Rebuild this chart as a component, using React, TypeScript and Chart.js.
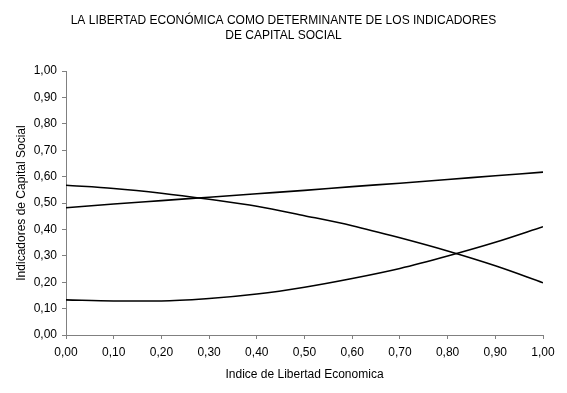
import React, { useEffect, useRef } from "react";
import { Chart, registerables } from "chart.js";

Chart.register(...registerables);

const xValues = [0, 0.1, 0.2, 0.3, 0.4, 0.5, 0.6, 0.7, 0.8, 0.9, 1.0];
const risingSeries = [0.482, 0.496, 0.509, 0.522, 0.535, 0.548, 0.562, 0.575, 0.589, 0.603, 0.617];
const fallingSeries = [0.567, 0.555, 0.537, 0.514, 0.488, 0.452, 0.414, 0.368, 0.318, 0.262, 0.198];
const uSeries = [0.133, 0.129, 0.129, 0.138, 0.155, 0.181, 0.214, 0.252, 0.299, 0.351, 0.41];

const titleLines = [
  "LA LIBERTAD ECONÓMICA COMO DETERMINANTE DE LOS INDICADORES",
  "DE CAPITAL SOCIAL",
];
const xTitle = "Indice de Libertad Economica";
const yTitle = "Indicadores de Capital Social";

const FONT = "'Liberation Sans', Arial, sans-serif";

const fmt = (v: number) => Number(v).toFixed(2).replace(".", ",");

const titlePlugin = {
  id: "centeredTitle",
  afterDraw(chart: any) {
    const ctx = chart.ctx;
    ctx.save();
    ctx.fillStyle = "#000000";
    ctx.font = `12px ${FONT}`;
    ctx.textAlign = "center";
    ctx.textBaseline = "middle";
    const cx = chart.width / 2;
    titleLines.forEach((line, i) => {
      ctx.fillText(line, cx, 21 + i * 15);
    });
    ctx.restore();
  },
};

export default function App() {
  const ref = useRef<HTMLCanvasElement | null>(null);

  useEffect(() => {
    document.body.style.margin = "0";
    const canvas = ref.current;
    if (!canvas) return;
    const mk = (arr: number[]) => arr.map((y, i) => ({ x: xValues[i], y }));
    const ds = (arr: number[]) => ({
      data: mk(arr),
      borderColor: "#000000",
      borderWidth: 1.6,
      pointRadius: 0,
      fill: false,
      cubicInterpolationMode: "monotone" as const,
    });
    const chart = new Chart(canvas, {
      type: "line",
      data: {
        datasets: [ds(risingSeries), ds(fallingSeries), ds(uSeries)],
      },
      plugins: [titlePlugin],
      options: {
        animation: false,
        responsive: false,
        devicePixelRatio: 1,
        layout: { padding: { left: 0, right: 24, top: 71, bottom: 0 } },
        plugins: {
          legend: { display: false },
          tooltip: { enabled: false },
          title: { display: false },
        },
        scales: {
          x: {
            type: "linear",
            min: 0,
            max: 1,
            afterFit: (s: any) => {
              s.height = 58;
            },
            ticks: {
              stepSize: 0.1,
              color: "#000000",
              font: { family: FONT, size: 12 },
              padding: 6,
              maxRotation: 0,
              callback: (v: any) => fmt(v),
            },
            grid: {
              drawOnChartArea: false,
              drawTicks: true,
              tickLength: 4,
              color: "#808080",
            },
            border: { display: true, color: "#808080", dash: [1, 1] },
            title: {
              display: true,
              text: xTitle,
              color: "#000000",
              font: { family: FONT, size: 12, weight: "normal" },
              padding: { top: 0, bottom: 11 },
            },
          },
          y: {
            type: "linear",
            min: 0,
            max: 1,
            afterFit: (s: any) => {
              s.width = 66;
            },
            ticks: {
              stepSize: 0.1,
              color: "#000000",
              font: { family: FONT, size: 12 },
              padding: 5,
              callback: (v: any) => fmt(v),
            },
            grid: {
              drawOnChartArea: false,
              drawTicks: true,
              tickLength: 4,
              color: "#808080",
            },
            border: { display: true, color: "#808080" },
            title: {
              display: true,
              text: yTitle,
              color: "#000000",
              font: { family: FONT, size: 12, weight: "normal" },
              padding: { top: 14, bottom: 0 },
            },
          },
        },
      },
    });
    return () => chart.destroy();
  }, []);

  return (
    <div style={{ width: 567, height: 393, background: "#ffffff" }}>
      <canvas ref={ref} width={567} height={393} style={{ display: "block" }} />
    </div>
  );
}
